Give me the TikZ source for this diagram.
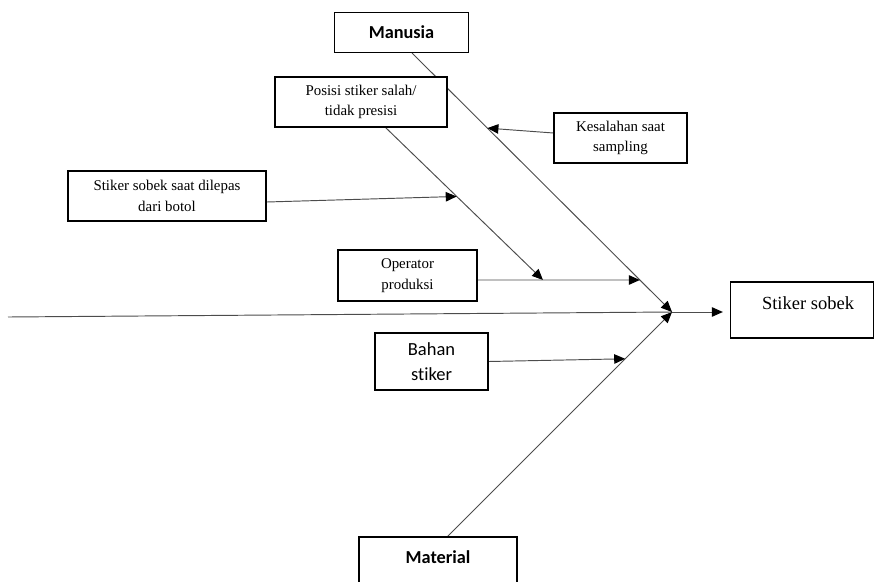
\documentclass[tikz,border=0pt]{standalone}
\usepackage{fontspec}
\setmainfont{Liberation Serif}
\setsansfont{Carlito}[Ligatures=NoCommon]
\usetikzlibrary{arrows.meta,calc}
\pgfdeclarelayer{background}
\pgfsetlayers{background,main}

\tikzset{
  box/.style={draw=black, line width=1.3pt, fill=white, inner sep=0pt, align=center},
  serifsm/.style={font=\fontsize{14.9}{20.5}\selectfont},
  seriflg/.style={font=\fontsize{18.5}{22}\selectfont},
  sanstxt/.style={font=\sffamily\fontsize{18.5}{25.5}\selectfont},
  sansbold/.style={font=\sffamily\bfseries\fontsize{18.3}{25}\selectfont},
  bone/.style={draw=black!70, line width=0.95pt},
  arr/.style={bone, -{Triangle[length=11pt,width=9.5pt,color=black]}},
}

\begin{document}
\begin{tikzpicture}[x=1pt, y=-1pt]
  \useasboundingbox (0,0) rectangle (875,581);

  % category boxes
  \node[box, sansbold, minimum width=134pt, minimum height=40pt] (manusia) at (401.5,32.5) {Manusia};
  \node[box, sansbold, minimum width=158pt, minimum height=60pt] (material) at (438,567) {};
  \node[sansbold] (materialtxt) at (438,557) {Material};

  % cause boxes
  \node[box, serifsm, minimum width=172pt, minimum height=50pt] (posisi) at (361,102) {Posisi stiker salah/\\tidak presisi};
  \node[box, serifsm, minimum width=133pt, minimum height=50pt] (kesalahan) at (620.5,138) {Kesalahan saat\\sampling};
  \node[box, serifsm, minimum width=198pt, minimum height=50pt] (dilepas) at (167,196) {Stiker sobek saat dilepas\\dari botol};
  \node[box, serifsm, minimum width=139pt, minimum height=51pt] (operator) at (407.5,275.5) {Operator\\produksi};
  \node[box, sanstxt, minimum width=113pt, minimum height=57pt] (bahan) at (431.5,361.5) {Bahan\\stiker};

  % effect box
  \node[box, minimum width=143pt, minimum height=56pt] (effect) at (802,310) {};
  \node[seriflg] (effecttxt) at (808,303) {Stiker sobek};

  % key points on the bones
  \coordinate (spinestart) at (8,317);
  \coordinate (head) at (672,312);
  \coordinate (mantop) at (412,53);
  \coordinate (mattop) at (447,537);
  \coordinate (posstart) at (385,127);
  \coordinate (postip) at (543,280);
  \coordinate (kesend) at ($(mantop)!0.29!(head)$);
  \coordinate (opend) at ($(mantop)!0.8764!(head)$);
  \coordinate (dilend) at ($(posstart)!0.454!(postip)$);
  \coordinate (bahend) at ($(mattop)!0.792!(head)$);

  \begin{pgfonlayer}{background}
    % spine
    \draw[bone] (spinestart) -- (head);
    \draw[arr, shorten >=7pt] (head) -- (head -| effect.west);
    % main bones
    \draw[arr] (mantop) -- (head);
    \draw[arr] (mattop) -- (head);
    % sub-cause arrows
    \draw[arr] ([yshift=5pt]kesalahan.west) -- (kesend);
    \draw[arr] (posstart) -- (postip);
    \draw[arr] ([yshift=-6pt]dilepas.east) -- (dilend);
    \draw[arr] ([yshift=-4.5pt]operator.east) -- (opend);
    \draw[arr] (bahan.east) -- (bahend);
  \end{pgfonlayer}
\end{tikzpicture}
\end{document}
